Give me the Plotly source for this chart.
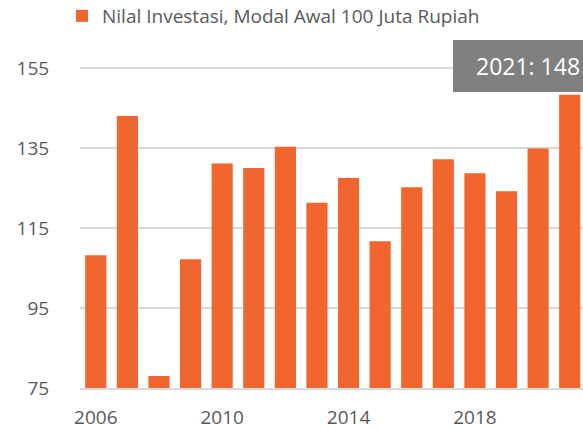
import plotly.graph_objects as go

years = list(range(2006, 2022))
values = [108.2, 143.0, 78.0, 107.2, 131.1, 130.0, 135.3, 121.3, 127.5,
          111.7, 125.2, 132.2, 128.7, 124.2, 134.9, 148.3]
series_name = "Nilal Investasi, Modal Awal 100 Juta Rupiah"
y_ticks = [75, 95, 115, 135, 155]
x_ticks = [2006, 2010, 2014, 2018]
callout_text = "2021: 148"

W, H = 583, 429
L, R, T, B = 80, 0, 48, 41
pw, ph = W - L - R, H - T - B

def px(x):
    return (x - L) / pw

def py(y):
    return (H - B - y) / ph

font_color = "#595959"
fam = "Open Sans"

fig = go.Figure()
fig.add_trace(go.Bar(
    x=years, y=values, name=series_name,
    marker=dict(color="#F1652F", line=dict(width=0)),
    width=0.67,
))

fig.update_layout(
    width=W, height=H,
    margin=dict(l=L, r=R, t=T, b=B, pad=0, autoexpand=False),
    plot_bgcolor="white", paper_bgcolor="white",
    font=dict(family=fam, size=19, color=font_color),
    showlegend=True,
    legend=dict(orientation="h", xref="container", yref="container",
                x=62 / W, y=1 - 16 / H, xanchor="left", yanchor="middle",
                font=dict(size=19, color=font_color), itemwidth=30,
                bgcolor="rgba(0,0,0,0)"),
    bargap=0.33,
)
fig.update_xaxes(
    range=[2005.5, 2021.42], tickvals=x_ticks, showgrid=False,
    showline=True, linecolor="#d9d9d9", linewidth=1.5,
    ticks="outside", ticklen=11, tickcolor="rgba(0,0,0,0)",
    tickfont=dict(size=19, color=font_color), zeroline=False, automargin=False,
)
fig.update_yaxes(
    range=[75, 160], tickvals=y_ticks, showgrid=True, gridcolor="#d9d9d9", gridwidth=1.5,
    ticks="outside", ticklen=26, tickcolor="rgba(0,0,0,0)",
    tickfont=dict(size=19, color=font_color), zeroline=False, showline=False,
    automargin=False,
)

fig.add_shape(type="rect", xref="paper", yref="paper",
              x0=px(453), x1=px(620), y0=py(92), y1=py(40),
              fillcolor="#808080", line=dict(width=0), layer="above")
fig.add_annotation(xref="paper", yref="paper", x=px(474), y=py(66),
                   xanchor="left", yanchor="middle", text=callout_text,
                   showarrow=False, font=dict(size=23, color="white", family=fam))

fig.write_html("out.html", config={"displayModeBar": False},
               post_script="document.body.style.margin='0';document.body.style.overflow='hidden';")
